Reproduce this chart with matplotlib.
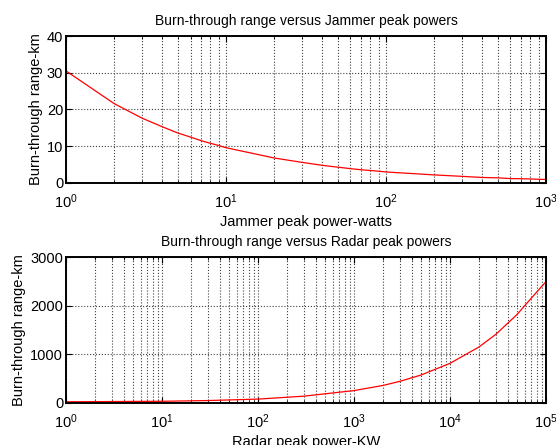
import matplotlib
matplotlib.use("Agg")
import matplotlib.pyplot as plt
from matplotlib.ticker import LogLocator, NullFormatter

plt.rcParams['font.family'] = ['Liberation Sans', 'DejaVu Sans']
plt.rcParams['mathtext.fontset'] = 'custom'
plt.rcParams['mathtext.rm'] = 'Liberation Sans'
plt.rcParams['mathtext.it'] = 'Liberation Sans'

# top plot: burn-through range vs jammer peak power (watts)
jammer_power = [1, 2, 3, 4, 5, 6, 7, 8, 9, 10, 20, 30, 40, 50, 60, 70, 80, 90,
                100, 200, 300, 400, 500, 600, 700, 800, 900, 1000]
jammer_range = [30.5, 21.6, 17.6, 15.3, 13.6, 12.5, 11.5, 10.8, 10.2, 9.6,
                6.8, 5.6, 4.8, 4.3, 3.9, 3.6, 3.4, 3.2, 3.0, 2.2, 1.8, 1.5,
                1.4, 1.2, 1.15, 1.1, 1.0, 0.96]

# bottom plot: burn-through range vs radar peak power (KW)
radar_power = [1, 10, 30, 100, 300, 1000, 2000, 3000, 5000, 10000, 20000,
               30000, 50000, 70000, 100000]
radar_range = [25, 35, 50, 80, 140, 255, 360, 445, 575, 815, 1150, 1410,
               1820, 2150, 2495]

fig = plt.figure(figsize=(5.56, 4.45), dpi=100)
ax1 = fig.add_axes([0.1187, 0.5888, 0.8633, 0.3303])
ax2 = fig.add_axes([0.1187, 0.0944, 0.8633, 0.328])


def style(ax, xmax, yticks, title, xlabel):
    ax.set_xscale('log')
    ax.set_xlim(1, xmax)
    ax.set_ylim(yticks[0], yticks[-1])
    ax.set_yticks(yticks)
    ax.xaxis.set_major_locator(LogLocator(base=10, numticks=12))
    ax.xaxis.set_minor_locator(LogLocator(base=10, subs=range(2, 10), numticks=12))
    ax.xaxis.set_minor_formatter(NullFormatter())
    ax.grid(True, which='major', color='0.25', linestyle=':', linewidth=0.8)
    ax.grid(True, which='minor', axis='x', color='0.25', linestyle=':', linewidth=0.8)
    ax.tick_params(which='both', direction='in', top=True, right=True, labelsize=10.5)
    ax.tick_params(which='major', length=4)
    ax.tick_params(which='minor', length=2)
    ax.tick_params(axis='x', which='major', pad=7)
    ax.tick_params(axis='y', which='major', pad=2)
    for s in ax.spines.values():
        s.set_linewidth(1.4)
    ax.set_title(title, fontsize=10, pad=8)
    ax.set_xlabel(xlabel, fontsize=10.5, labelpad=3)
    ax.set_ylabel('Burn-through range-km', fontsize=10.5, labelpad=3)


ax1.plot(jammer_power, jammer_range, color='r', linewidth=0.9)
style(ax1, 1000, [0, 10, 20, 30, 40],
      'Burn-through range versus Jammer peak powers', 'Jammer peak power-watts')

ax2.plot(radar_power, radar_range, color='r', linewidth=0.9)
style(ax2, 100000, [0, 1000, 2000, 3000],
      'Burn-through range versus Radar peak powers', 'Radar peak power-KW')

fig.savefig('out.png', dpi=100)
